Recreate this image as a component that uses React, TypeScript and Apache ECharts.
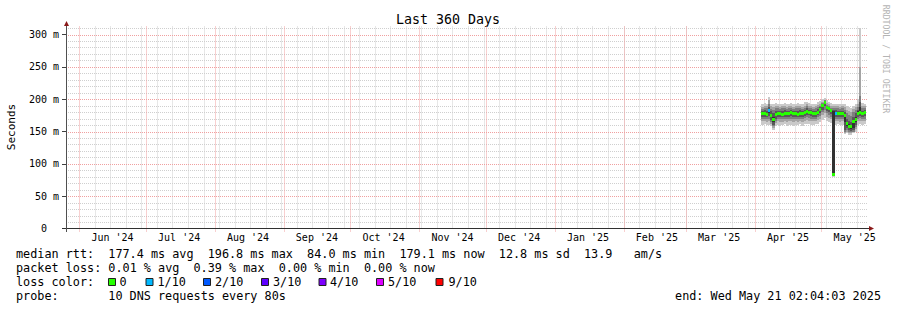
import React, { useEffect, useRef } from "react";
import * as echarts from "echarts";

const FONT = "'DejaVu Sans Mono', monospace";

// ---- time range ----
const END_TIME = "2025-05-21T02:04:03Z";
const SPAN_DAYS = 360;
const FIRST_WEEK = "2024-06-08";

// ---- x axis (months) ----
const monthStarts = [
  "2024-06-01", "2024-07-01", "2024-08-01", "2024-09-01", "2024-10-01", "2024-11-01",
  "2024-12-01", "2025-01-01", "2025-02-01", "2025-03-01", "2025-04-01", "2025-05-01",
];
const monthLabels = [
  "Jun '24", "Jul '24", "Aug '24", "Sep '24", "Oct '24", "Nov '24",
  "Dec '24", "Jan '25", "Feb '25", "Mar '25", "Apr '25", "May '25",
];

// ---- y axis ----
const yTicks = [0, 50, 100, 150, 200, 250, 300];
const Y_MAX = 312.4;

// ---- data (ms), one entry per day ----
const days = [
  "2025-04-04", "2025-04-05", "2025-04-06", "2025-04-07", "2025-04-08", "2025-04-09", "2025-04-10",
  "2025-04-11", "2025-04-12", "2025-04-13", "2025-04-14", "2025-04-15", "2025-04-16", "2025-04-17",
  "2025-04-18", "2025-04-19", "2025-04-20", "2025-04-21", "2025-04-22", "2025-04-23", "2025-04-24",
  "2025-04-25", "2025-04-26", "2025-04-27", "2025-04-28", "2025-04-29", "2025-04-30", "2025-05-01",
  "2025-05-02", "2025-05-03", "2025-05-04", "2025-05-05", "2025-05-06", "2025-05-07", "2025-05-08",
  "2025-05-09", "2025-05-10", "2025-05-11", "2025-05-12", "2025-05-13", "2025-05-14", "2025-05-15",
  "2025-05-16", "2025-05-17", "2025-05-18", "2025-05-19", "2025-05-20",
];
const median = [178, 178, 177, 182, 175, 168, 177, 178, 178, 177, 178, 178, 178, 179, 178, 178, 177, 178, 178, 179, 181, 180, 179, 178, 178, 180, 184, 190, 195, 187, 185, 182, 84, 178, 178, 178, 178, 174, 162, 158, 157, 165, 168, 178, 180, 178, 179];
const lossCount = [0, 0, 0, 1, 0, 0, 0, 0, 0, 0, 0, 0, 0, 0, 0, 0, 0, 0, 0, 0, 0, 0, 0, 0, 0, 0, 0, 0, 0, 0, 0, 0, 0, 1, 0, 0, 0, 0, 0, 0, 0, 0, 0, 0, 0, 0, 0];

// smoke: sorted ping percentiles, outer (1) to inner (5)
const hi1 = [192, 194, 193, 204, 193, 192, 194, 193, 192, 193, 194, 192, 193, 194, 192, 193, 194, 193, 192, 195, 196, 194, 193, 192, 193, 195, 197, 200, 202, 198, 196, 194, 192, 192, 193, 192, 193, 192, 190, 188, 186, 190, 193, 200, 310, 194, 193];
const hi2 = [188, 189, 189, 198, 189, 188, 189, 189, 188, 189, 190, 188, 189, 190, 188, 189, 190, 189, 188, 190, 192, 190, 189, 188, 189, 191, 193, 196, 199, 194, 192, 190, 189, 189, 189, 188, 189, 188, 184, 182, 180, 185, 188, 192, 250, 190, 189];
const hi3 = [185, 186, 186, 192, 185, 184, 186, 186, 185, 186, 186, 185, 186, 187, 185, 186, 186, 186, 185, 187, 189, 187, 186, 185, 186, 188, 190, 194, 198, 191, 189, 187, 186, 186, 186, 185, 186, 184, 178, 175, 174, 180, 184, 188, 205, 187, 186];
const hi4 = [182, 183, 182, 188, 181, 178, 182, 182, 182, 182, 183, 182, 182, 183, 182, 182, 182, 183, 182, 184, 186, 184, 183, 182, 182, 185, 188, 193, 197, 190, 188, 185, 184, 183, 182, 182, 182, 180, 170, 166, 165, 173, 178, 184, 196, 182, 183];
const hi5 = [180, 180, 179, 184, 177, 172, 179, 180, 180, 179, 180, 180, 180, 181, 180, 180, 179, 180, 180, 181, 183, 182, 181, 180, 180, 182, 186, 191, 196, 188, 187, 184, 182, 180, 180, 180, 180, 177, 165, 161, 160, 168, 172, 181, 188, 180, 181];
const lo5 = [176, 176, 175, 178, 172, 165, 174, 176, 176, 175, 176, 176, 176, 177, 176, 176, 175, 176, 176, 177, 179, 178, 177, 176, 176, 178, 182, 188, 193, 185, 183, 180, 84, 176, 176, 176, 176, 165, 159, 155, 154, 155, 164, 176, 178, 176, 177];
const lo4 = [173, 173, 172, 174, 168, 160, 170, 173, 173, 172, 173, 173, 173, 174, 173, 173, 172, 173, 173, 174, 176, 175, 174, 173, 173, 175, 178, 184, 189, 182, 180, 177, 83, 173, 173, 173, 173, 152, 156, 152, 151, 152, 160, 173, 174, 173, 174];
const lo3 = [170, 170, 169, 170, 165, 158, 167, 170, 169, 169, 170, 169, 170, 170, 169, 170, 169, 170, 169, 171, 172, 171, 170, 170, 170, 172, 174, 180, 184, 178, 176, 173, 82, 170, 170, 169, 170, 150, 153, 150, 149, 150, 157, 170, 171, 170, 170];
const lo2 = [166, 166, 165, 166, 162, 156, 163, 166, 165, 165, 166, 165, 166, 166, 165, 166, 165, 166, 165, 167, 168, 167, 166, 166, 166, 168, 170, 175, 178, 173, 171, 169, 81, 166, 166, 165, 166, 148, 150, 148, 147, 149, 154, 166, 167, 166, 166];
const lo1 = [160, 161, 160, 160, 158, 152, 158, 160, 159, 160, 161, 159, 160, 160, 159, 160, 160, 161, 159, 161, 162, 161, 160, 160, 161, 162, 164, 168, 171, 166, 165, 163, 80, 160, 161, 160, 160, 146, 147, 145, 144, 147, 150, 160, 162, 160, 161];

const smokeLayers = [
  { hi: hi1, lo: lo1, color: "#cacaca" },
  { hi: hi2, lo: lo2, color: "#a4a4a4" },
  { hi: hi3, lo: lo3, color: "#7e7e7e" },
  { hi: hi4, lo: lo4, color: "#585858" },
  { hi: hi5, lo: lo5, color: "#323232" },
];

// ---- legend ----
const lossLabels = ["0", "1/10", "2/10", "3/10", "4/10", "5/10", "9/10"];
const lossColors = ["#26ff00", "#00b8ff", "#0059ff", "#5e00ff", "#7e00ff", "#dd00ff", "#ff0000"];
const lossBoxX = [108, 145.5, 203, 261, 318.5, 376, 435.5];
const lossTextX = [119.5, 157.5, 215, 273, 330, 388, 448.5];

const legendRows = [
  "median rtt:  177.4 ms avg  196.8 ms max  84.0 ms min  179.1 ms now  12.8 ms sd  13.9   am/s",
  "packet loss: 0.01 % avg  0.39 % max  0.00 % min  0.00 % now",
  "loss color:",
  "probe:       10 DNS requests every 80s",
];
const endText = "end: Wed May 21 02:04:03 2025";
const titleText = "Last 360 Days";
const yTitle = "Seconds";
const watermark = "RRDTOOL / TOBI OETIKER";

const DAY = 86400000;

function lossColor(n: number) {
  if (n <= 0) return lossColors[0];
  if (n <= 5) return lossColors[n];
  return lossColors[6];
}

export default function App() {
  const ref = useRef<HTMLDivElement>(null);
  useEffect(() => {
    if (!ref.current) return;
    const chart = echarts.init(ref.current, undefined, { renderer: "svg" });

    const endTs = Date.parse(END_TIME);
    const startTs = endTs - SPAN_DAYS * DAY;
    const monthTs = monthStarts.map((d) => Date.parse(d + "T00:00:00Z"));
    const labelTs = monthTs.map((t) => t + 15 * DAY);
    const weekTs: number[] = [];
    for (let t = Date.parse(FIRST_WEEK + "T00:00:00Z"); t < endTs; t += 7 * DAY) weekTs.push(t);
    const dayTs = days.map((d) => Date.parse(d + "T00:00:00Z"));

    const CW = 7.1;
    const LX = 16;
    const rowY = [254, 268, 282, 296];
    const legendFont = `11.8px ${FONT}`;

    const graphic: any[] = [];
    graphic.push({
      type: "text", x: 448, y: 19,
      style: { text: titleText, font: `13.3px ${FONT}`, fill: "#000", align: "center", verticalAlign: "middle", textAlign: "center", textVerticalAlign: "middle" },
    });
    graphic.push({
      type: "text", x: 11, y: 127, rotation: Math.PI / 2,
      style: { text: yTitle, font: `11px ${FONT}`, fill: "#000", align: "center", verticalAlign: "middle", textAlign: "center", textVerticalAlign: "middle" },
    });
    graphic.push({
      type: "text", x: 886, y: 59, rotation: -Math.PI / 2,
      style: { text: watermark, font: `8.2px ${FONT}`, fill: "#b4b4b4", align: "center", verticalAlign: "middle", textAlign: "center", textVerticalAlign: "middle" },
    });
    legendRows.forEach((row, r) => {
      const re = /\S+(?: \S+)*/g;
      let m: RegExpExecArray | null;
      while ((m = re.exec(row)) !== null) {
        graphic.push({
          type: "text", x: LX + m.index * CW, y: rowY[r],
          style: { text: m[0], font: legendFont, fill: "#000", align: "left", verticalAlign: "middle", textAlign: "left", textVerticalAlign: "middle" },
        });
      }
    });
    lossLabels.forEach((lab, i) => {
      graphic.push({
        type: "rect", shape: { x: lossBoxX[i] + 0.5, y: 278.5, width: 7, height: 7 },
        style: { fill: lossColors[i], stroke: "#202020", lineWidth: 1 },
      });
      graphic.push({
        type: "text", x: lossTextX[i], y: rowY[2],
        style: { text: lab, font: legendFont, fill: "#000", align: "left", verticalAlign: "middle", textAlign: "left", textVerticalAlign: "middle" },
      });
    });
    graphic.push({
      type: "text", x: 881, y: rowY[3],
      style: { text: endText, font: legendFont, fill: "#000", align: "right", verticalAlign: "middle", textAlign: "right", textVerticalAlign: "middle" },
    });
    // axes lines and arrows
    graphic.push({ type: "line", shape: { x1: 62, y1: 228.5, x2: 869, y2: 228.5 }, style: { stroke: "#303030", lineWidth: 1 }, z: 100 });
    graphic.push({ type: "line", shape: { x1: 66.5, y1: 232, x2: 66.5, y2: 24 }, style: { stroke: "#505050", lineWidth: 1 }, z: 100 });
    graphic.push({ type: "polygon", shape: { points: [[64, 26], [69, 26], [66.5, 21]] }, style: { fill: "#8b1a1a" }, z: 100 });
    graphic.push({ type: "polygon", shape: { points: [[869, 226], [869, 231], [874, 228.5]] }, style: { fill: "#8b1a1a" }, z: 100 });

    const crisp = (v: number) => Math.round(v) + 0.5;

    const gridSeries = {
      type: "custom",
      silent: true,
      z: 1,
      data: [[startTs, 0]],
      renderItem: (params: any, api: any) => {
        const cs = params.coordSys;
        const children: any[] = [];
        const left = cs.x, right = cs.x + cs.width + 2, top = cs.y, bottom = cs.y + cs.height;
        const dotted = (x1: number, y1: number, x2: number, y2: number, color: string) =>
          children.push({ type: "line", shape: { x1, y1, x2, y2 }, style: { stroke: color, lineWidth: 1, lineDash: [1, 1] } });
        for (let v = 10; v < Y_MAX; v += 10) {
          if (v % 50 === 0) continue;
          const y = crisp(api.coord([startTs, v])[1]);
          dotted(left, y, right, y, "#cfcfcf");
        }
        weekTs.forEach((t) => {
          const x = crisp(api.coord([t, 0])[0]);
          dotted(x, top, x, bottom, "#cfcfcf");
        });
        for (let v = 50; v < Y_MAX; v += 50) {
          const y = crisp(api.coord([startTs, v])[1]);
          dotted(left, y, right, y, "#f0a0a0");
        }
        monthTs.forEach((t) => {
          const x = crisp(api.coord([t, 0])[0]);
          dotted(x, top, x, bottom + 3, "#f0a0a0");
        });
        return { type: "group", children };
      },
    };

    const smokeSeries = {
      type: "custom",
      silent: true,
      z: 2,
      data: days.map((d, i) => [dayTs[i], median[i], i]),
      renderItem: (params: any, api: any) => {
        const t = api.value(0);
        const i = api.value(2);
        const x0 = Math.round(api.coord([t, 0])[0]);
        const x1 = Math.round(api.coord([t + DAY, 0])[0]);
        const children: any[] = [];
        smokeLayers.forEach((L) => {
          const yT = api.coord([t, L.hi[i]])[1];
          const yB = api.coord([t, L.lo[i]])[1];
          children.push({
            type: "rect",
            shape: { x: x0, y: Math.round(yT), width: x1 - x0, height: Math.max(1, Math.round(yB) - Math.round(yT)) },
            style: { fill: L.color },
          });
        });
        return { type: "group", children };
      },
    };

    const medianSeries = {
      type: "custom",
      silent: true,
      z: 3,
      data: days.map((d, i) => [dayTs[i], median[i], i]),
      renderItem: (params: any, api: any) => {
        const t = api.value(0);
        const i = api.value(2);
        const x0 = Math.round(api.coord([t, 0])[0]);
        const x1 = Math.round(api.coord([t + DAY, 0])[0]);
        const y = api.coord([t, api.value(1)])[1];
        return {
          type: "rect",
          shape: { x: x0, y: Math.round(y - 1.5), width: x1 - x0, height: 3 },
          style: { fill: lossColor(lossCount[i]) },
        };
      },
    };

    const option: any = {
      animation: false,
      backgroundColor: "#fff",
      grid: { left: 66, top: 26.5, width: 800, height: 202 },
      xAxis: {
        type: "value",
        min: startTs,
        max: endTs,
        axisLine: { show: false },
        axisTick: { show: false },
        splitLine: { show: false },
        axisLabel: {
          customValues: labelTs,
          formatter: (v: number) => {
            const k = labelTs.findIndex((t) => Math.abs(t - v) < 1000);
            return k >= 0 ? monthLabels[k] : "";
          },
          fontFamily: FONT,
          fontSize: 10,
          color: "#000",
          margin: 4,
        },
      },
      yAxis: {
        type: "value",
        min: 0,
        max: Y_MAX,
        axisLine: { show: false },
        axisTick: { show: true, length: 4, customValues: yTicks, lineStyle: { color: "#404040" } },
        splitLine: { show: false },
        axisLabel: {
          customValues: yTicks,
          formatter: (v: number) => (v === 0 ? "{z|0}" : `${v} m`),
          rich: { z: { padding: [0, 12, 0, 0], fontFamily: FONT, fontSize: 10, color: "#000" } },
          fontFamily: FONT,
          fontSize: 10,
          color: "#000",
          margin: 7,
        },
      },
      series: [gridSeries, smokeSeries, medianSeries],
      graphic,
    };
    chart.setOption(option);
    return () => chart.dispose();
  }, []);
  return <div ref={ref} style={{ width: 897, height: 310, position: "absolute", left: 0, top: 0, background: "#fff" }} />;
}
